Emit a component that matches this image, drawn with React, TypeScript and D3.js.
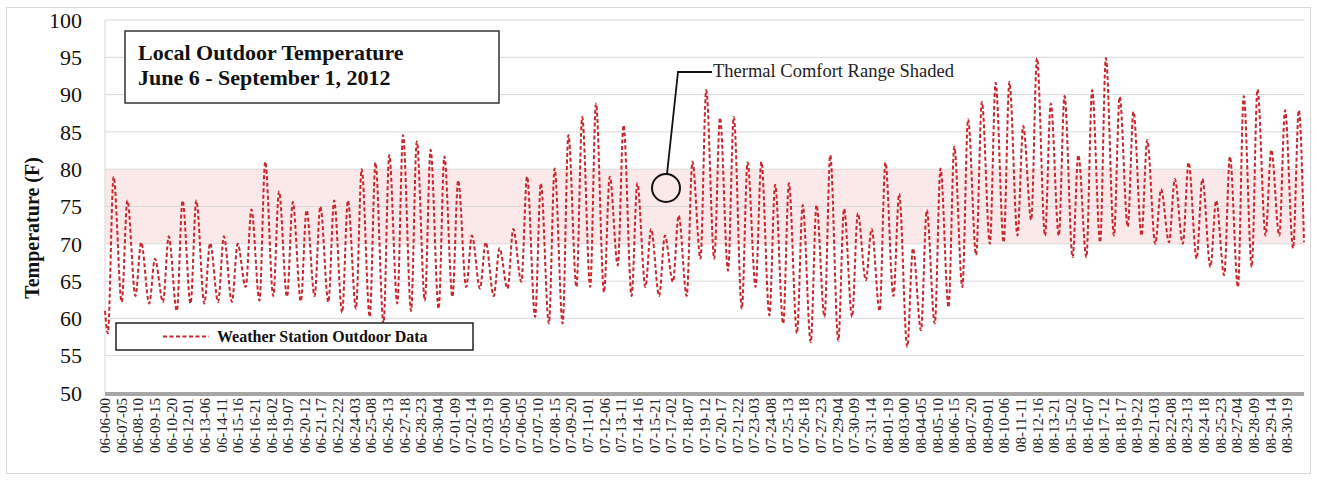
import { useEffect, useRef } from 'react';
import * as d3 from 'd3';

// daily temperatures (F), June 6 .. August 31
const dailyLows = [
  58, 62.2, 63, 62, 62.2, 61, 62, 62, 62.2, 62.2,
  64.2, 62.4, 63, 62.9, 62.3, 63, 62.2, 60.8, 61.3, 60.2,
  59.3, 62, 61, 62.4, 61.3, 62.9, 64.2, 64, 63, 64,
  64.9, 60.2, 59.3, 59.3, 64.2, 64.2, 63.5, 67.1, 63, 64.2,
  63, 64.9, 63, 68, 68, 66.4, 61.3, 64.2, 60.4, 59.3,
  58, 56.8, 60.2, 57, 60.2, 65.1, 61, 63, 56.2, 58.4,
  59.3, 61.5, 64.2, 68.5, 70, 70.2, 71.1, 73.2, 71.1, 71.1,
  68.2, 68.2, 70.2, 71.1, 72.3, 71.1, 70, 70.2, 70, 68,
  66.9, 65.8, 64.2, 66.9, 71.1, 71.1, 69.4,
];

const dailyHighs = [
  79, 75.8, 70.2, 68, 71, 75.8, 75.8, 70.1, 71, 70,
  74.6, 81, 77, 75.6, 74.5, 75, 75.8, 75.8, 80, 80.9,
  81.9, 84.6, 83.7, 82.6, 81.7, 78.5, 71.1, 70.2, 69.4, 72,
  79, 78.1, 80.1, 84.6, 87, 88.8, 79, 85.9, 78.1, 72,
  71.1, 73.8, 81, 90.6, 86.9, 87, 80.9, 81, 77.9, 78.1,
  75.2, 75.2, 81.9, 74.7, 74.1, 72, 80.9, 76.7, 69.4, 74.5,
  80.1, 83, 86.7, 89, 91.6, 91.7, 85.8, 94.9, 88.8, 89.8,
  81.9, 90.6, 94.9, 89.7, 87.7, 83.9, 77.3, 78.7, 80.9, 78.7,
  75.8, 81.7, 89.8, 90.7, 82.6, 87.9, 87.9,
];

const startTemp = 61;
const endTemp = 70.2;

const tickLabels = [
  '06-06-00', '06-07-05', '06-08-10', '06-09-15', '06-10-20', '06-12-01',
  '06-13-06', '06-14-11', '06-15-16', '06-16-21', '06-18-02', '06-19-07',
  '06-20-12', '06-21-17', '06-22-22', '06-24-03', '06-25-08', '06-26-13',
  '06-27-18', '06-28-23', '06-30-04', '07-01-09', '07-02-14', '07-03-19',
  '07-05-00', '07-06-05', '07-07-10', '07-08-15', '07-09-20', '07-11-01',
  '07-12-06', '07-13-11', '07-14-16', '07-15-21', '07-17-02', '07-18-07',
  '07-19-12', '07-20-17', '07-21-22', '07-23-03', '07-24-08', '07-25-13',
  '07-26-18', '07-27-23', '07-29-04', '07-30-09', '07-31-14', '08-01-19',
  '08-03-00', '08-04-05', '08-05-10', '08-06-15', '08-07-20', '08-09-01',
  '08-10-06', '08-11-11', '08-12-16', '08-13-21', '08-15-02', '08-16-07',
  '08-17-12', '08-18-17', '08-19-22', '08-21-03', '08-22-08', '08-23-13',
  '08-24-18', '08-25-23', '08-27-04', '08-28-09', '08-29-14', '08-30-19',
];

const yTicks = [50, 55, 60, 65, 70, 75, 80, 85, 90, 95, 100];
const comfortRange = [70, 80];
const totalHours = 2088;
const labelStep = 29;

const FONT = '"Liberation Serif", "Times New Roman", serif';
const LINE_RED = '#c9262d';

type Pt = { h: number; t: number };

export default function App() {
  const ref = useRef<SVGSVGElement | null>(null);

  useEffect(() => {
    const svg = d3.select(ref.current);
    svg.selectAll('*').remove();

    const left = 105;
    const right = 1304;
    const top = 20;
    const bottom = 393;

    const x = d3.scaleLinear().domain([0, totalHours]).range([left, right]);
    const y = d3.scaleLinear().domain([50, 100]).range([bottom, top]);

    // outer frame
    svg.append('rect')
      .attr('x', 6.5).attr('y', 7.5)
      .attr('width', 1304).attr('height', 466)
      .attr('fill', '#fff')
      .attr('stroke', '#d9d9d9');

    // comfort band
    svg.append('rect')
      .attr('x', left).attr('width', right - left)
      .attr('y', y(comfortRange[1]))
      .attr('height', y(comfortRange[0]) - y(comfortRange[1]))
      .attr('fill', '#fbe9e9');

    // gridlines
    svg.append('g')
      .selectAll('line')
      .data(yTicks.slice(1))
      .join('line')
      .attr('x1', left).attr('x2', right)
      .attr('y1', d => y(d)).attr('y2', d => y(d))
      .attr('stroke', '#d9d9d9')
      .attr('stroke-width', 1);

    svg.append('line')
      .attr('x1', left).attr('x2', left)
      .attr('y1', top).attr('y2', bottom)
      .attr('stroke', '#d9d9d9');

    // y tick labels
    svg.append('g')
      .selectAll('text')
      .data(yTicks)
      .join('text')
      .attr('x', 82)
      .attr('y', d => y(d))
      .attr('dy', '0.35em')
      .attr('text-anchor', 'end')
      .attr('font-family', FONT)
      .attr('font-size', 22)
      .attr('fill', '#111')
      .text(d => d);

    // y axis title
    svg.append('text')
      .attr('transform', `translate(39,228) rotate(-90)`)
      .attr('text-anchor', 'middle')
      .attr('font-family', FONT)
      .attr('font-weight', 'bold')
      .attr('font-size', 20)
      .attr('fill', '#111')
      .text('Temperature (F)');

    // series
    const points: Pt[] = [{ h: 0, t: startTemp }];
    dailyHighs.forEach((hi, d) => {
      points.push({ h: d * 24 + 5, t: dailyLows[d] });
      points.push({ h: d * 24 + 15, t: hi });
    });
    points.push({ h: totalHours, t: endTemp });

    const line = d3.line<Pt>()
      .x(d => x(d.h))
      .y(d => y(d.t))
      .curve(d3.curveMonotoneX);

    svg.append('path')
      .datum(points)
      .attr('fill', 'none')
      .attr('stroke', LINE_RED)
      .attr('stroke-width', 2)
      .attr('stroke-dasharray', '4,2.5');

    svg.select('path').attr('d', line);

    // x axis bar
    svg.append('line')
      .attr('x1', left).attr('x2', right)
      .attr('y1', bottom + 1).attr('y2', bottom + 1)
      .attr('stroke', '#a6a6a6')
      .attr('stroke-width', 4);

    // x tick labels
    svg.append('g')
      .selectAll('text')
      .data(tickLabels)
      .join('text')
      .attr('transform', (_, i) => `translate(${x(i * labelStep) + 5},398) rotate(-90)`)
      .attr('text-anchor', 'end')
      .attr('font-family', FONT)
      .attr('font-size', 15)
      .attr('fill', '#222')
      .text(d => d);

    // title box
    svg.append('rect')
      .attr('x', 125).attr('y', 31)
      .attr('width', 374).attr('height', 72)
      .attr('fill', '#fff')
      .attr('stroke', '#333')
      .attr('stroke-width', 1.5);
    const title = svg.append('text')
      .attr('font-family', FONT)
      .attr('font-weight', 'bold')
      .attr('font-size', 22)
      .attr('fill', '#111');
    title.append('tspan').attr('x', 138).attr('y', 60).text('Local Outdoor Temperature');
    title.append('tspan').attr('x', 138).attr('y', 85).text('June 6 - September 1, 2012');

    // legend box
    svg.append('rect')
      .attr('x', 116).attr('y', 323)
      .attr('width', 357).attr('height', 27)
      .attr('fill', '#fff')
      .attr('stroke', '#222')
      .attr('stroke-width', 1.5);
    svg.append('line')
      .attr('x1', 163).attr('x2', 209)
      .attr('y1', 336.5).attr('y2', 336.5)
      .attr('stroke', LINE_RED)
      .attr('stroke-width', 2)
      .attr('stroke-dasharray', '4,2.5');
    svg.append('text')
      .attr('x', 217).attr('y', 342)
      .attr('font-family', FONT)
      .attr('font-weight', 'bold')
      .attr('font-size', 16)
      .attr('fill', '#111')
      .text('Weather Station Outdoor Data');

    // annotation
    svg.append('path')
      .attr('d', 'M712,72 L678,72 L667,174')
      .attr('fill', 'none')
      .attr('stroke', '#111')
      .attr('stroke-width', 1.8);
    svg.append('circle')
      .attr('cx', 666).attr('cy', 188).attr('r', 14)
      .attr('fill', 'none')
      .attr('stroke', '#111')
      .attr('stroke-width', 2);
    svg.append('text')
      .attr('x', 713).attr('y', 77)
      .attr('font-family', FONT)
      .attr('font-size', 18.5)
      .attr('fill', '#222')
      .text('Thermal Comfort Range Shaded');
  }, []);

  return (
    <svg
      ref={ref}
      width={1317}
      height={480}
      style={{ position: 'absolute', left: 0, top: 0, background: '#fff' }}
    ></svg>
  );
}
